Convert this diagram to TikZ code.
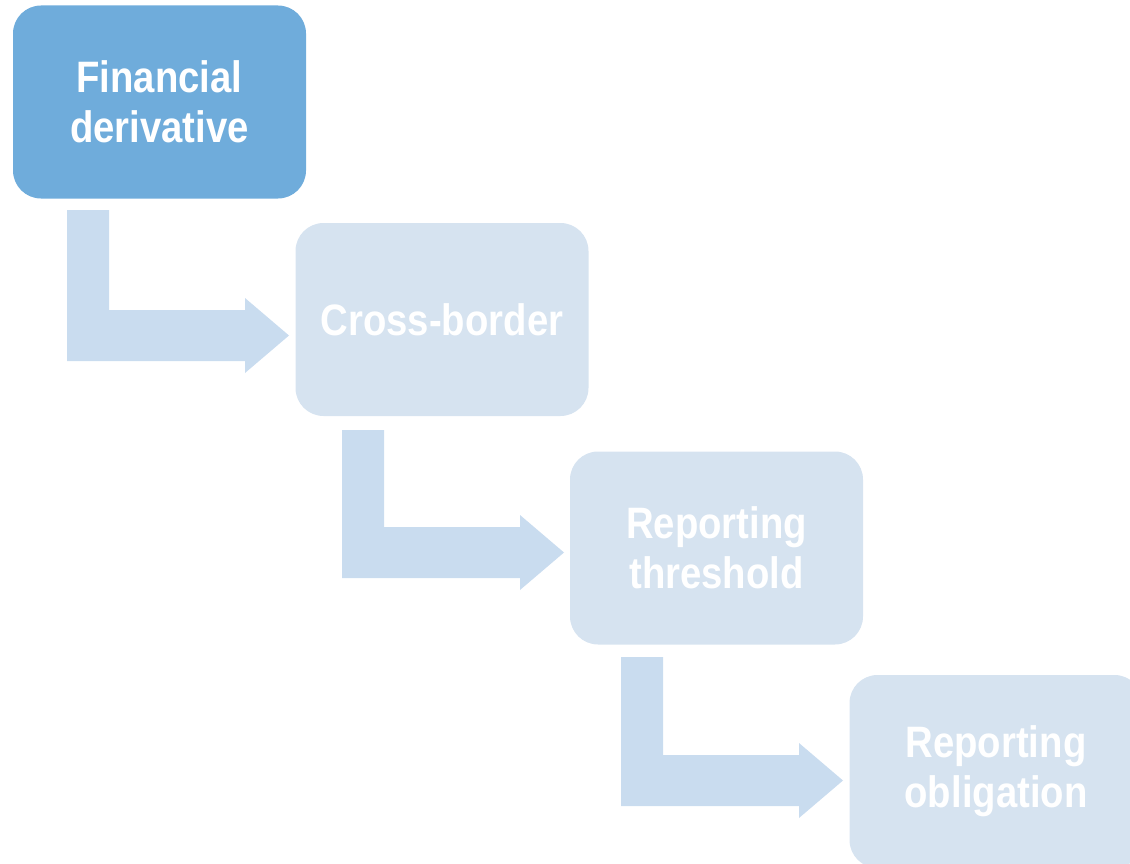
\documentclass[tikz,border=0pt]{standalone}
\usepackage{fontspec}
\setmainfont{Liberation Sans}
\newfontfamily\boxfont[FakeStretch=0.87]{Liberation Sans}
\definecolor{darkbox}{RGB}{111,172,219}
\definecolor{lightbox}{RGB}{214,227,240}
\definecolor{arrowfill}{RGB}{201,220,239}
\tikzset{
  stagebox/.style={rectangle, rounded corners=28pt, minimum width=293pt, minimum height=193pt,
    inner sep=0pt, align=center, text=white,
    font=\boxfont\fontsize{44}{50}\selectfont\bfseries},
  blockarrow/.style={fill=arrowfill, draw=none}
}
\newcommand{\bentarrow}[3]{% #1 = x of bar left, #2 = y top, #3 = y of horizontal bar top
  \fill[blockarrow] (#1,#2) -- (#1+42,#2) -- (#1+42,#3) -- (#1+178,#3) -- (#1+178,#3-12)
    -- (#1+222,#3+25.5) -- (#1+178,#3+63) -- (#1+178,#3+51) -- (#1,#3+51) -- cycle;}
\begin{document}
\begin{tikzpicture}[x=1pt,y=-1pt]
\useasboundingbox (0,0) rectangle (1130,864);
\clip (0,0) rectangle (1130,864);
\node[stagebox, fill=darkbox] (fin) at (159.5,102) {Financial\\derivative};
\node[stagebox, fill=lightbox] (cross) at (442,319.5) {Cross-border};
\node[stagebox, fill=lightbox] (thresh) at (716.5,548) {Reporting\\threshold};
\node[stagebox, fill=lightbox] (oblig) at (996,771.5) {Reporting\\obligation};
\bentarrow{67}{210}{310}
\bentarrow{342}{430}{527}
\bentarrow{621}{657}{755}
\end{tikzpicture}
\end{document}
